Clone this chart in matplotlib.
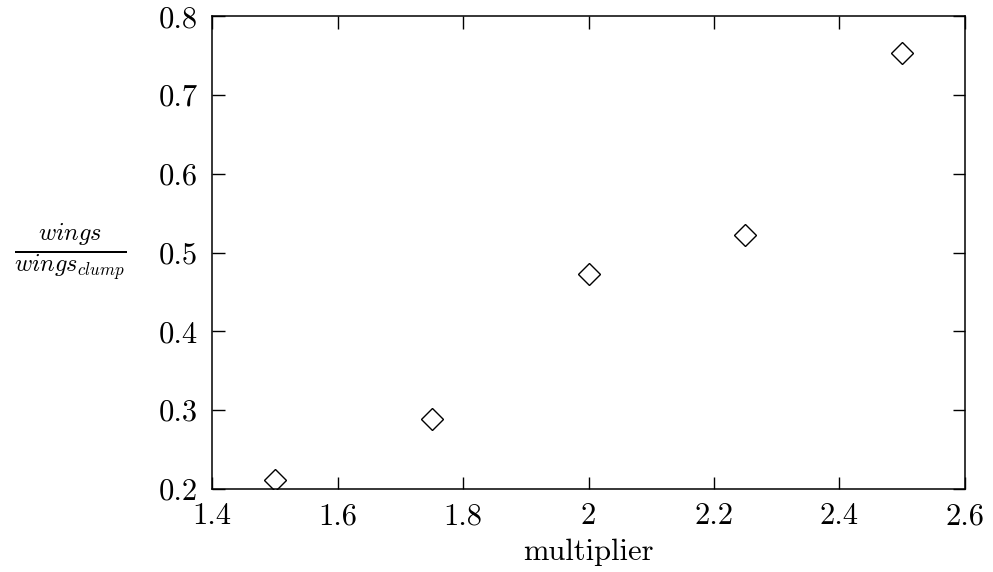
import numpy as np
import matplotlib.pyplot as plt

plt.rcParams['font.family'] = 'serif'
plt.rcParams['font.serif'] = ['cmr10']
plt.rcParams['mathtext.fontset'] = 'cm'
plt.rcParams['axes.formatter.use_mathtext'] = True

# data
multiplier = [1.5, 1.75, 2.0, 2.25, 2.5]
ratio = [0.211, 0.289, 0.473, 0.522, 0.753]

xticks = [1.4, 1.6, 1.8, 2.0, 2.2, 2.4, 2.6]
xticklabels = ['1.4', '1.6', '1.8', '2', '2.2', '2.4', '2.6']
yticks = [0.2, 0.3, 0.4, 0.5, 0.6, 0.7, 0.8]
yticklabels = ['0.2', '0.3', '0.4', '0.5', '0.6', '0.7', '0.8']

fig = plt.figure(figsize=(9.93, 5.72), dpi=100)
ax = fig.add_axes([0.2135, 0.1451, 0.7583, 0.8261])

ax.plot(multiplier, ratio, linestyle='none', marker='D', markersize=10.7,
        markerfacecolor='none', markeredgecolor='black', markeredgewidth=1.0)

ax.set_xlim(1.4, 2.6)
ax.set_ylim(0.2, 0.8)
ax.set_xticks(xticks)
ax.set_xticklabels(xticklabels)
ax.set_yticks(yticks)
ax.set_yticklabels(yticklabels)
ax.tick_params(direction='in', length=9, width=1.0, top=True, right=True,
               labelsize=22, pad=10)
for s in ax.spines.values():
    s.set_linewidth(1.1)

ax.set_xlabel('multiplier', fontsize=22, labelpad=6)
ax.set_ylabel(r'$\frac{wings}{wings_{clump}}$', fontsize=25, rotation=0,
              ha='center', va='center')
ax.yaxis.set_label_coords(-0.188, 0.5)

fig.savefig('out.png', dpi=100)
